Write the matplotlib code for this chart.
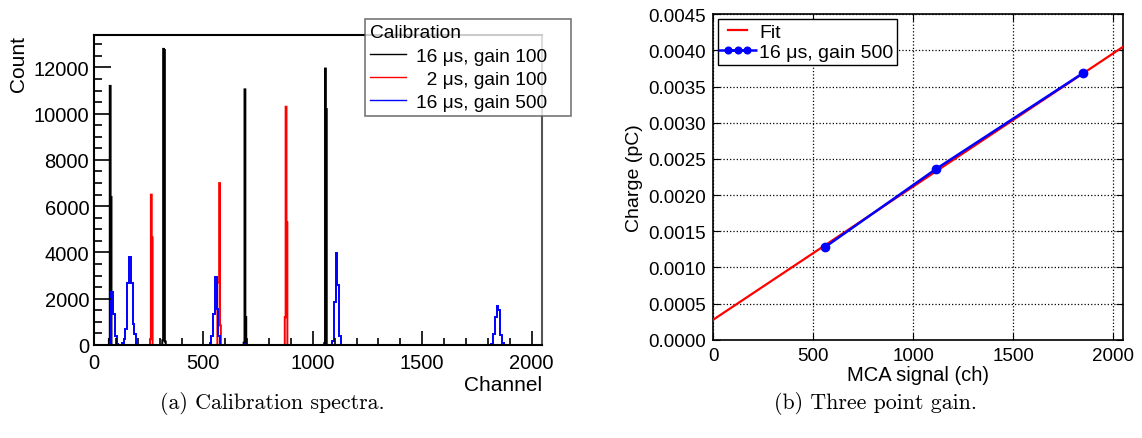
import numpy as np
import matplotlib
matplotlib.use("Agg")
import matplotlib.pyplot as plt
from matplotlib.ticker import MultipleLocator, FormatStrFormatter
from matplotlib.legend_handler import HandlerErrorbar

# ---------------- data: calibration spectra (channel bin start, counts) ----------------
n_channels = 2048
black_binwidth = 4
black_peaks = [(68, 250), (72, 11200), (76, 6400), (312, 200), (316, 12800), (320, 12750),
               (324, 150), (684, 100), (688, 11050), (692, 1200), (1052, 80), (1056, 11950),
               (1060, 10200)]
red_binwidth = 4
red_peaks = [(256, 250), (260, 6500), (264, 4650), (564, 2700), (568, 2700), (572, 7000),
             (576, 850), (872, 1200), (876, 10300), (880, 5300)]
blue_binwidth = 8
blue_peaks = [(72, 150), (80, 2300), (88, 1340), (96, 400), (104, 60),
              (128, 80), (136, 260), (144, 690), (152, 2700), (160, 3790), (168, 2670),
              (176, 900), (184, 470),
              (528, 80), (536, 400), (544, 1340), (552, 2925), (560, 1550), (568, 400),
              (688, 60),
              (1088, 190), (1096, 1870), (1104, 3960), (1112, 2590), (1120, 400),
              (1816, 50), (1824, 475), (1832, 1200), (1840, 1670), (1848, 1500),
              (1856, 450), (1864, 80)]
spectra_labels = ["16 \u03bcs, gain 100", "\u20072 \u03bcs, gain 100", "16 \u03bcs, gain 500"]

# ---------------- data: three point gain ----------------
gain_x = [558, 1113, 1850]
gain_y = [0.00128, 0.00236, 0.00369]
fit_x = [0, 2048]
fit_y = [0.000277, 0.00405]

SANS = ["Liberation Sans", "DejaVu Sans"]
plt.rcParams["font.family"] = SANS

fig = plt.figure(figsize=(11.42, 4.39), dpi=100)
W, H = 1142, 439


def fig_rect(x0, y0, x1, y1):
    return [x0 / W, 1 - y1 / H, (x1 - x0) / W, (y1 - y0) / H]


def build_hist(peaks, bw):
    edges = np.arange(0, n_channels + bw, bw)
    vals = np.zeros(len(edges) - 1)
    for start, c in peaks:
        vals[start // bw] = c
    return edges, vals


# ---------------- left panel ----------------
ax1 = fig.add_axes(fig_rect(94, 36, 542, 346))
handles = []
for peaks, bw, col in [(black_peaks, black_binwidth, "black"),
                       (red_peaks, red_binwidth, "#ff0000"),
                       (blue_peaks, blue_binwidth, "#0000ff")]:
    e, v = build_hist(peaks, bw)
    ax1.stairs(v, e, color=col, lw=1.4, baseline=None)
    handles.append(plt.Line2D([], [], color=col, lw=1.0))

ax1.set_xlim(0, n_channels)
ax1.set_ylim(0, 13400)
ax1.xaxis.set_major_locator(MultipleLocator(500))
ax1.xaxis.set_minor_locator(MultipleLocator(100))
ax1.yaxis.set_major_locator(MultipleLocator(2000))
ax1.yaxis.set_minor_locator(MultipleLocator(500))
ax1.tick_params(which="both", direction="in", top=False, right=False, labelsize=14.5)
ax1.tick_params(which="major", length=12, width=1.2)
ax1.tick_params(which="minor", length=6, width=1.2)
ax1.tick_params(axis="x", which="major", length=10, pad=6)
ax1.tick_params(axis="x", which="minor", length=5)
for s in ax1.spines.values():
    s.set_linewidth(1.5)
ax1.spines["right"].set_color("#555555")
ax1.set_xlabel("Channel", fontsize=15, loc="right", labelpad=2)
ax1.set_ylabel("Count", fontsize=15, loc="top", labelpad=4)

leg1 = fig.legend(handles, spectra_labels, title="Calibration", loc="upper left",
                  bbox_to_anchor=(365 / W, 1 - 20 / H, 206 / W, 0.0),
                  bbox_transform=fig.transFigure, mode="expand", borderaxespad=0,
                  fontsize=13.8, title_fontsize=13.8, alignment="left",
                  frameon=True, fancybox=False, edgecolor="#555555",
                  handlelength=1.9, handletextpad=0.5, labelspacing=0.28,
                  borderpad=0.25)
leg1.get_frame().set_linewidth(1.2)
leg1._legend_box.sep = 5

# ---------------- right panel ----------------
ax2 = fig.add_axes(fig_rect(713.3, 15.3, 1123, 340.7))
ax2.plot(fit_x, fit_y, color="#ff0000", lw=1.6, label="Fit", zorder=3)
ax2.errorbar(gain_x, gain_y, xerr=[0.5, 0.5, 0.5], color="#0000ff", lw=1.8, marker="o",
             ms=6, label="16 \u03bcs, gain 500", zorder=4)
ax2.set_xlim(0, 2048)
ax2.set_ylim(0, 0.0045)
ax2.xaxis.set_major_locator(MultipleLocator(500))
ax2.yaxis.set_major_locator(MultipleLocator(0.0005))
ax2.yaxis.set_major_formatter(FormatStrFormatter("%.4f"))
ax2.grid(True, color="black", linestyle=":", lw=0.9)
ax2.tick_params(direction="in", top=True, right=True, length=5, labelsize=13.5, pad=5)
for s in ax2.spines.values():
    s.set_linewidth(1.2)
ax2.set_xlabel("MCA signal (ch)", fontsize=14.5, labelpad=1)
ax2.set_ylabel("Charge (pC)", fontsize=14, labelpad=4)
leg2 = ax2.legend(loc="upper left", fontsize=14, numpoints=3, fancybox=False,
                  edgecolor="black", framealpha=1, handlelength=1.6, handletextpad=0.3,
                  labelspacing=0.15, borderpad=0.2, borderaxespad=0.25, markerscale=0.8,
                  handler_map={type(ax2.containers[0]): HandlerErrorbar(numpoints=3)})
leg2.get_frame().set_linewidth(1.0)

# ---------------- captions ----------------
fig.text(272 / W, 1 - 404 / H, "(a) Calibration spectra.", family="cmr10", fontsize=15.8,
         ha="center", va="center")
fig.text(876 / W, 1 - 404 / H, "(b) Three point gain.", family="cmr10", fontsize=15.8,
         ha="center", va="center")

fig.savefig("out.png", dpi=100)
